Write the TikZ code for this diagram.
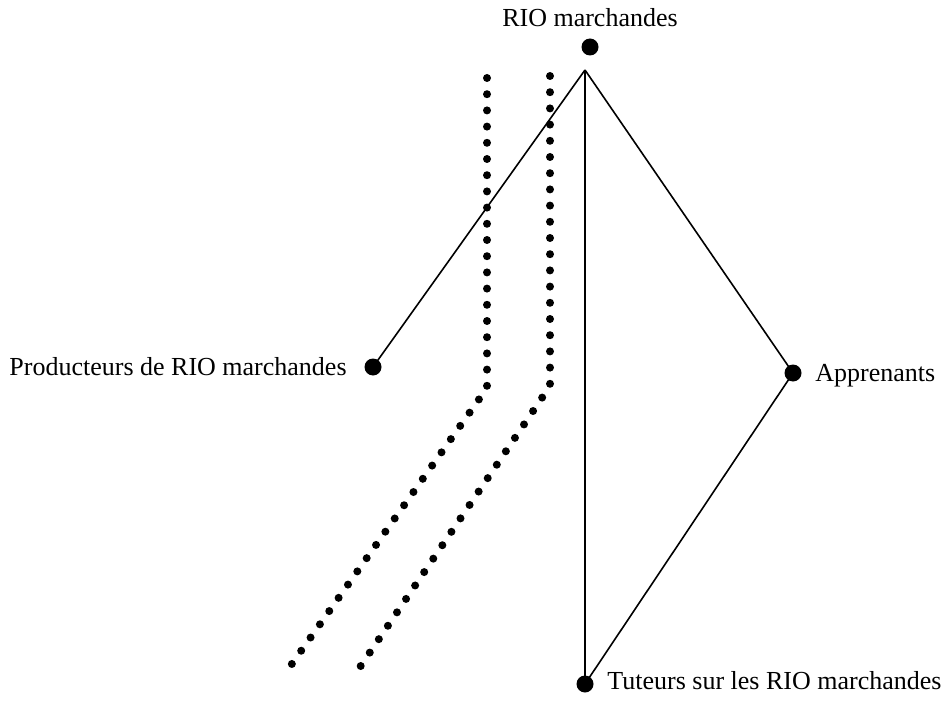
\documentclass[tikz,border=0pt]{standalone}
\usepackage{fontspec}
\setmainfont{Liberation Serif}
\begin{document}
\begin{tikzpicture}[x=0.5pt,y=-0.5pt,
  bigdot/.style={circle,fill=black,inner sep=0pt,minimum size=8.5pt},
  edge/.style={line width=0.8pt},
  dotline/.style={line width=4pt,line cap=round,dash pattern=on 0pt off 8.1pt},
  lbl/.style={inner sep=0pt,font=\fontsize{13}{15}\selectfont}]
\useasboundingbox (0,0) rectangle (948,701);
% main dots
\node[bigdot] (top) at (590,47) {};
\node[bigdot] (prod) at (373,367) {};
\node[bigdot] (app) at (793,373) {};
\node[bigdot] (tut) at (585,684) {};
\coordinate (apex) at (585,70);
% labels
\node[lbl,anchor=base] (ltop) at (590,27) {RIO marchandes};
\node[lbl,anchor=base east] (lprod) at (347,375) {Producteurs de RIO marchandes};
\node[lbl,anchor=base west] (lapp) at (815,381) {Apprenants};
\node[lbl,anchor=base west] (ltut) at (607,689) {Tuteurs sur les RIO marchandes};
% edges
\draw[edge] (apex) -- (prod.center);
\draw[edge] (apex) -- (tut.center);
\draw[edge] (apex) -- (app.center);
\draw[edge] (app.center) -- (tut.center);
% dotted lines
\coordinate (d1a) at (487,78);
\coordinate (d1b) at (487,388);
\coordinate (d1c) at (289,668);
\coordinate (d2a) at (550,76);
\coordinate (d2b) at (550,386);
\coordinate (d2c) at (358,670);
\draw[dotline] (d1a) -- (d1b) -- (d1c);
\draw[dotline] (d2a) -- (d2b) -- (d2c);
\end{tikzpicture}
\end{document}
